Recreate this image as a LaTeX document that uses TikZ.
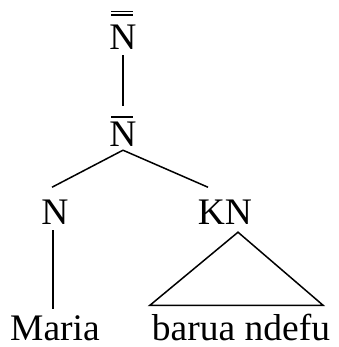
\documentclass[tikz,border=0pt]{standalone}
\usepackage{fontspec}
\setmainfont{Liberation Serif}
\begin{document}
\begin{tikzpicture}[x=1pt,y=-1pt,
  lbl/.style={anchor=base,inner sep=0pt,font=\fontsize{37.5}{40}\selectfont},
  edge/.style={line width=1.5pt}]
\useasboundingbox (0,0) rectangle (338,347);
\node[lbl] (top) at (123,50) {N};
\node[lbl] (mid) at (123,147) {N};
\node[lbl] (left) at (55,224) {N};
\node[lbl] (kn) at (225,224) {KN};
\node[lbl] (maria) at (55,340) {Maria};
\node[lbl] (barua) at (241,340) {barua ndefu};
% bars
\draw[edge] ([xshift=2pt,yshift=10pt]top.north west) -- ([xshift=-4pt,yshift=10pt]top.north east);
\draw[edge] ([xshift=2pt,yshift=13.5pt]top.north west) -- ([xshift=-4pt,yshift=13.5pt]top.north east);
\draw[edge] ([xshift=2pt,yshift=5pt]mid.north west) -- ([xshift=-4pt,yshift=5pt]mid.north east);
% connectors
\draw[edge] ([yshift=-5pt]top.south) -- ([yshift=16pt]mid.north);
\draw[edge] ([yshift=-3pt]mid.south) -- ([xshift=-3pt,yshift=12pt]left.north);
\draw[edge] ([yshift=-3pt]mid.south) -- ([xshift=-17pt,yshift=12pt]kn.north);
\draw[edge] ([xshift=-2pt,yshift=-6pt]left.south) -- ([xshift=-2pt,yshift=6pt]maria.north);
\draw[edge] ([xshift=13pt,yshift=-8pt]kn.south) -- ([xshift=-2pt,yshift=8pt]barua.north west)
  -- ([xshift=-7pt,yshift=8pt]barua.north east) -- cycle;
\end{tikzpicture}
\end{document}
